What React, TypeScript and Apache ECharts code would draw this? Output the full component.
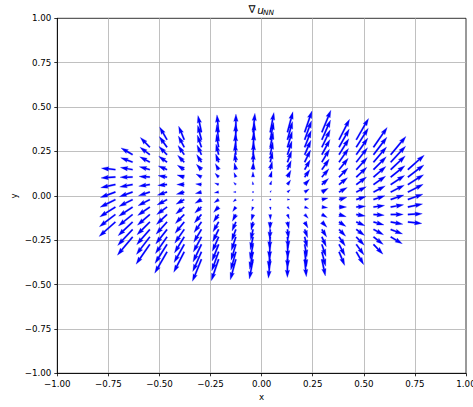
import React, { useEffect, useRef } from "react";
import * as echarts from "echarts";

// Quiver sample grid (tails of the arrows)
const xGrid = [-0.7158, -0.6316, -0.5474, -0.4632, -0.3789, -0.2947, -0.2105, -0.1263, -0.0421,
  0.0421, 0.1263, 0.2105, 0.2947, 0.3789, 0.4632, 0.5474, 0.6316, 0.7158];
const yGrid = [-0.3579, -0.3158, -0.2737, -0.2316, -0.1895, -0.1474, -0.1053, -0.0632, -0.0211,
  0.0211, 0.0632, 0.1053, 0.1474, 0.1895, 0.2316, 0.2737, 0.3158, 0.3579];
// number of (centred) rows present in each column
const rowsPerColumn = [8, 12, 14, 16, 16, 18, 18, 18, 18, 18, 18, 18, 18, 16, 16, 14, 12, 8];

// gradient components per column, bottom to top
const gradU = [
  [-16.3, -16.0, -15.7, -15.3, -15.0, -14.7, -14.4, -14.0],
  [-15.2, -14.9, -14.5, -14.2, -13.9, -13.6, -13.2, -12.9, -12.6, -12.2, -11.9, -11.6],
  [-13.7, -13.4, -13.1, -12.8, -12.4, -12.1, -11.8, -11.4, -11.1, -10.8, -10.5, -10.1, -9.8, -9.5],
  [-12.3, -12.0, -11.6, -11.3, -11.0, -10.6, -10.3, -10.0, -9.7, -9.3, -9.0, -8.7, -8.3, -8.0, -7.7, -7.4],
  [-10.5, -10.2, -9.8, -9.5, -9.2, -8.9, -8.5, -8.2, -7.9, -7.5, -7.2, -6.9, -6.6, -6.2, -5.9, -5.6],
  [-9.0, -8.7, -8.4, -8.1, -7.7, -7.4, -7.1, -6.7, -6.4, -6.1, -5.8, -5.4, -5.1, -4.8, -4.4, -4.1, -3.8, -3.5],
  [-7.3, -6.9, -6.6, -6.3, -5.9, -5.6, -5.3, -5.0, -4.6, -4.3, -4.0, -3.6, -3.3, -3.0, -2.7, -2.3, -2.0, -1.7],
  [-5.5, -5.1, -4.8, -4.5, -4.2, -3.8, -3.5, -3.2, -2.8, -2.5, -2.2, -1.9, -1.5, -1.2, -0.9, -0.5, -0.2, 0.1],
  [-3.7, -3.4, -3.0, -2.7, -2.4, -2.0, -1.7, -1.4, -1.1, -0.7, -0.4, -0.1, 0.3, 0.6, 0.9, 1.2, 1.6, 1.9],
  [-1.9, -1.6, -1.2, -0.9, -0.6, -0.3, 0.1, 0.4, 0.7, 1.1, 1.4, 1.7, 2.0, 2.4, 2.7, 3.0, 3.4, 3.7],
  [-0.1, 0.2, 0.5, 0.9, 1.2, 1.5, 1.9, 2.2, 2.5, 2.8, 3.2, 3.5, 3.8, 4.2, 4.5, 4.8, 5.1, 5.5],
  [1.7, 2.0, 2.3, 2.7, 3.0, 3.3, 3.6, 4.0, 4.3, 4.6, 5.0, 5.3, 5.6, 5.9, 6.3, 6.6, 6.9, 7.3],
  [3.5, 3.8, 4.1, 4.4, 4.8, 5.1, 5.4, 5.8, 6.1, 6.4, 6.7, 7.1, 7.4, 7.7, 8.1, 8.4, 8.7, 9.0],
  [5.6, 5.9, 6.2, 6.6, 6.9, 7.2, 7.5, 7.9, 8.2, 8.5, 8.9, 9.2, 9.5, 9.8, 10.2, 10.5],
  [7.4, 7.7, 8.0, 8.3, 8.7, 9.0, 9.3, 9.7, 10.0, 10.3, 10.6, 11.0, 11.3, 11.6, 12.0, 12.3],
  [9.5, 9.8, 10.1, 10.5, 10.8, 11.1, 11.4, 11.8, 12.1, 12.4, 12.8, 13.1, 13.4, 13.7],
  [11.6, 11.9, 12.2, 12.6, 12.9, 13.2, 13.6, 13.9, 14.2, 14.5, 14.9, 15.2],
  [14.0, 14.4, 14.7, 15.0, 15.3, 15.7, 16.0, 16.3],
];
const gradV = [
  [-14.5, -12.2, -9.9, -7.7, -5.4, -3.1, -0.8, 1.5],
  [-18.3, -16.0, -13.7, -11.4, -9.2, -6.9, -4.6, -2.3, -0.1, 2.2, 4.5, 6.8],
  [-19.8, -17.5, -15.2, -12.9, -10.7, -8.4, -6.1, -3.8, -1.6, 0.7, 3.0, 5.3, 7.5, 9.8],
  [-21.3, -19.0, -16.7, -14.5, -12.2, -9.9, -7.6, -5.4, -3.1, -0.8, 1.5, 3.7, 6.0, 8.3, 10.6, 12.8],
  [-20.5, -18.2, -16.0, -13.7, -11.4, -9.1, -6.9, -4.6, -2.3, 0.0, 2.2, 4.5, 6.8, 9.1, 11.3, 13.6],
  [-22.0, -19.7, -17.5, -15.2, -12.9, -10.6, -8.4, -6.1, -3.8, -1.5, 0.7, 3.0, 5.3, 7.6, 9.8, 12.1, 14.4, 16.7],
  [-21.3, -19.0, -16.7, -14.4, -12.2, -9.9, -7.6, -5.3, -3.1, -0.8, 1.5, 3.8, 6.0, 8.3, 10.6, 12.9, 15.1, 17.4],
  [-20.5, -18.2, -15.9, -13.7, -11.4, -9.1, -6.8, -4.6, -2.3, 0.0, 2.3, 4.5, 6.8, 9.1, 11.4, 13.6, 15.9, 18.2],
  [-19.7, -17.4, -15.2, -12.9, -10.6, -8.3, -6.1, -3.8, -1.5, 0.8, 3.0, 5.3, 7.6, 9.9, 12.1, 14.4, 16.7, 19.0],
  [-19.0, -16.7, -14.4, -12.1, -9.9, -7.6, -5.3, -3.0, -0.8, 1.5, 3.8, 6.1, 8.3, 10.6, 12.9, 15.2, 17.4, 19.7],
  [-18.2, -15.9, -13.6, -11.4, -9.1, -6.8, -4.5, -2.3, 0.0, 2.3, 4.6, 6.8, 9.1, 11.4, 13.7, 15.9, 18.2, 20.5],
  [-17.4, -15.1, -12.9, -10.6, -8.3, -6.0, -3.8, -1.5, 0.8, 3.1, 5.3, 7.6, 9.9, 12.2, 14.4, 16.7, 19.0, 21.3],
  [-16.7, -14.4, -12.1, -9.8, -7.6, -5.3, -3.0, -0.7, 1.5, 3.8, 6.1, 8.4, 10.6, 12.9, 15.2, 17.5, 19.7, 22.0],
  [-13.6, -11.3, -9.1, -6.8, -4.5, -2.2, 0.0, 2.3, 4.6, 6.9, 9.1, 11.4, 13.7, 16.0, 18.2, 20.5],
  [-12.8, -10.6, -8.3, -6.0, -3.7, -1.5, 0.8, 3.1, 5.4, 7.6, 9.9, 12.2, 14.5, 16.7, 19.0, 21.3],
  [-9.8, -7.5, -5.3, -3.0, -0.7, 1.6, 3.8, 6.1, 8.4, 10.7, 12.9, 15.2, 17.5, 19.8],
  [-6.8, -4.5, -2.2, 0.1, 2.3, 4.6, 6.9, 9.2, 11.4, 13.7, 16.0, 18.3],
  [-1.5, 0.8, 3.1, 5.4, 7.7, 9.9, 12.2, 14.5],
];

const AXIS_MIN = -1;
const AXIS_MAX = 1;
const TICK_STEP = 0.25;

// quiver drawing parameters (matplotlib defaults)
const PX_PER_UNIT = 1;
const SHAFT_W = 1.48;
const HEAD_LEN = 5;
const HEAD_AXIS_LEN = 4.5;
const HEAD_W = 3;

const FONT = "DejaVu Sans";

function buildPoints() {
  const pts: number[][] = [];
  xGrid.forEach((x, c) => {
    const n = rowsPerColumn[c];
    const start = (yGrid.length - n) / 2;
    for (let i = 0; i < n; i++) {
      pts.push([x, yGrid[start + i], gradU[c][i], gradV[c][i]]);
    }
  });
  return pts;
}

const fmt = (v: number) => {
  const s = v.toFixed(2);
  return s.startsWith("-") ? "\u2212" + s.slice(1) : s;
};

export default function App() {
  const ref = useRef<HTMLDivElement>(null);
  useEffect(() => {
    if (!ref.current) return;
    const chart = echarts.init(ref.current, undefined, { renderer: "svg" });
    const data = buildPoints();

    const renderItem = (params: any, api: any) => {
      const x = api.value(0);
      const y = api.value(1);
      const u = api.value(2);
      const v = api.value(3);
      const p = api.coord([x, y]);
      const w = SHAFT_W;
      const L = (Math.hypot(u, v) * PX_PER_UNIT) / w;
      const ang = Math.atan2(-v, u);
      let xs: number[];
      let ys: number[];
      if (L < 1) {
        xs = [];
        ys = [];
        for (let k = 0; k < 6; k++) {
          xs.push(Math.cos((k * Math.PI) / 3) * 0.5);
          ys.push(Math.sin((k * Math.PI) / 3) * 0.5);
        }
      } else if (L < HEAD_LEN) {
        const s = L / HEAD_LEN;
        xs = [0, HEAD_LEN - HEAD_AXIS_LEN, 0, HEAD_LEN, 0, HEAD_LEN - HEAD_AXIS_LEN, 0].map((t) => t * s);
        ys = [0.5, 0.5, HEAD_W / 2, 0, -HEAD_W / 2, -0.5, -0.5].map((t) => t * s);
      } else {
        xs = [0, L - HEAD_AXIS_LEN, L - HEAD_LEN, L, L - HEAD_LEN, L - HEAD_AXIS_LEN, 0];
        ys = [0.5, 0.5, HEAD_W / 2, 0, -HEAD_W / 2, -0.5, -0.5];
      }
      const c = Math.cos(ang);
      const s = Math.sin(ang);
      const points = xs.map((xx, i) => [
        p[0] + (xx * c - ys[i] * s) * w,
        p[1] + (xx * s + ys[i] * c) * w,
      ]);
      return {
        type: "polygon",
        shape: { points },
        style: { fill: "#0000ff", stroke: "#0000ff", lineWidth: 0.25 },
      };
    };

    const axisCommon = {
      type: "value",
      min: AXIS_MIN,
      max: AXIS_MAX,
      interval: TICK_STEP,
      axisLine: { show: true, onZero: false, lineStyle: { color: "#000", width: 0.8 } },
      axisTick: { show: true, inside: false, length: 3, lineStyle: { color: "#000", width: 0.8 } },
      axisLabel: {
        show: true,
        formatter: fmt,
        fontFamily: FONT,
        fontSize: 8.7,
        color: "#000",
        margin: 6,
        showMinLabel: true,
        showMaxLabel: true,
        hideOverlap: false,
      },
      splitLine: {
        show: true,
        showMinLine: false,
        showMaxLine: false,
        lineStyle: { color: "#b0b0b0", width: 0.8 },
      },
    };

    chart.setOption({
      animation: false,
      backgroundColor: "#ffffff",
      grid: {
        left: 57.3,
        top: 18.3,
        width: 408.7,
        height: 355,
        containLabel: false,
        outerBoundsMode: "none",
        show: true,
        borderColor: "#000",
        borderWidth: 0.8,
        backgroundColor: "transparent",
      },
      xAxis: { ...axisCommon, position: "bottom" },
      yAxis: { ...axisCommon, position: "left" },
      series: [
        {
          type: "custom",
          coordinateSystem: "cartesian2d",
          encode: { x: 0, y: 1 },
          data,
          renderItem,
          silent: true,
          z: 5,
        },
      ],
      graphic: [
        {
          type: "text",
          x: 248.5,
          y: 9.2,
          style: { text: "\u2207", fontFamily: FONT, fontSize: 10.5, fill: "#000", textAlign: "left", textVerticalAlign: "middle" },
        },
        {
          type: "text",
          x: 257.3,
          y: 9.6,
          style: { text: "u", fontFamily: FONT, fontStyle: "italic", fontSize: 10.5, fill: "#000", textAlign: "left", textVerticalAlign: "middle" },
        },
        {
          type: "text",
          x: 263,
          y: 12.2,
          style: { text: "NN", fontFamily: FONT, fontStyle: "italic", fontSize: 7.35, fill: "#000", textAlign: "left", textVerticalAlign: "middle" },
        },
        {
          type: "text",
          x: 261.6,
          y: 396.5,
          style: { text: "x", fontFamily: FONT, fontSize: 8.7, fill: "#000", textAlign: "center", textVerticalAlign: "middle" },
        },
        {
          type: "text",
          x: 14,
          y: 195.8,
          rotation: Math.PI / 2,
          style: { text: "y", fontFamily: FONT, fontSize: 8.7, fill: "#000", textAlign: "center", textVerticalAlign: "middle" },
        },
      ],
    });
    return () => chart.dispose();
  }, []);
  return (
    <div
      ref={ref}
      style={{ position: "fixed", left: 0, top: 0, width: 473, height: 407, background: "#fff" }}
    />
  );
}
